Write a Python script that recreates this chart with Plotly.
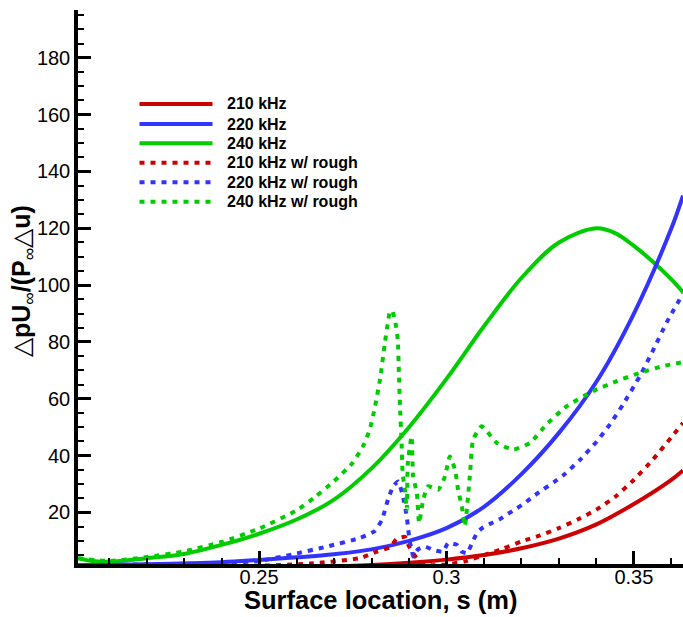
import plotly.graph_objects as go

# Surface location s (m) and normalized pressure response for each case
s_210 = [0.2017, 0.2500, 0.2700, 0.2800, 0.2900, 0.3000, 0.3100, 0.3200, 0.3300,
         0.3400, 0.3500, 0.3600, 0.3631]
dp_210 = [0.3, 0.5, 1.0, 1.5, 2.3, 3.4, 5.0, 7.4, 10.8,
          15.8, 23.0, 31.5, 34.8]

s_220 = [0.2017, 0.2200, 0.2400, 0.2500, 0.2600, 0.2700, 0.2800, 0.2900, 0.3000,
         0.3100, 0.3200, 0.3300, 0.3400, 0.3500, 0.3600, 0.3631]
dp_220 = [1.5, 1.8, 2.5, 3.3, 4.2, 5.3, 7.0, 10.0, 14.5,
          22.0, 33.5, 48.0, 66.0, 90.0, 120.0, 131.5]

s_240 = [0.2017, 0.2050, 0.2100, 0.2200, 0.2300, 0.2400, 0.2500, 0.2600, 0.2700,
         0.2800, 0.2900, 0.3000, 0.3100, 0.3200, 0.3300, 0.3400, 0.3450, 0.3500,
         0.3550, 0.3600, 0.3631]
dp_240 = [3.9, 3.0, 2.7, 3.9, 5.4, 8.6, 12.5, 17.5, 24.5,
          35.5, 50.0, 67.0, 85.5, 102.5, 115.0, 120.0, 118.3, 113.8,
          108.3, 102.0, 97.5]

s_210r = [0.2017, 0.2400, 0.2636, 0.2769, 0.2814, 0.2849, 0.2867, 0.2889, 0.2898,
          0.2911, 0.2921, 0.2943, 0.3000, 0.3050, 0.3100, 0.3150, 0.3200, 0.3250,
          0.3300, 0.3350, 0.3400, 0.3450, 0.3500, 0.3550, 0.3600, 0.3631]
dp_210r = [0.3, 0.8, 2.0, 3.9, 6.2, 7.8, 10.6, 11.4, 8.6,
           5.7, 3.9, 1.5, 1.7, 2.8, 5.0, 7.2, 9.8, 11.9,
           14.5, 17.5, 21.0, 25.5, 31.5, 38.5, 46.5, 51.5]

s_220r = [0.2017, 0.2200, 0.2400, 0.2500, 0.2591, 0.2681, 0.2769, 0.2809, 0.2828,
          0.2844, 0.2857, 0.2871, 0.2884, 0.2894, 0.2898, 0.2903, 0.2907, 0.2911,
          0.2924, 0.2943, 0.2964, 0.2991, 0.3004, 0.3028, 0.3041, 0.3055, 0.3068,
          0.3081, 0.3095, 0.3121, 0.3143, 0.3164, 0.3188, 0.3209, 0.3231, 0.3311,
          0.3356, 0.3401, 0.3436, 0.3471, 0.3516, 0.3551, 0.3588, 0.3631]
dp_220r = [1.5, 1.7, 2.2, 2.9, 5.3, 8.0, 11.0, 13.5, 17.5,
           24.5, 29.0, 30.9, 25.6, 18.6, 13.9, 9.2, 7.4, 4.5,
           7.0, 8.0, 6.8, 6.2, 9.2, 8.6, 6.2, 5.7, 9.2,
           12.7, 14.5, 16.3, 17.7, 19.5, 21.5, 23.3, 25.6, 33.0,
           38.5, 45.0, 51.0, 58.0, 68.0, 77.0, 87.0, 97.0]

s_240r = [0.2017, 0.2100, 0.2200, 0.2300, 0.2400, 0.2500, 0.2600, 0.2650, 0.2700,
          0.2750, 0.2780, 0.2796, 0.2809, 0.2823, 0.2836, 0.2844, 0.2849, 0.2855,
          0.2863, 0.2870, 0.2873, 0.2876, 0.2880, 0.2883, 0.2889, 0.2894, 0.2897,
          0.2907, 0.2911, 0.2921, 0.2927, 0.2938, 0.2951, 0.2978, 0.2996, 0.3009,
          0.3023, 0.3031, 0.3041, 0.3049, 0.3063, 0.3071, 0.3094, 0.3134, 0.3178,
          0.3223, 0.3267, 0.3321, 0.3391, 0.3454, 0.3516, 0.3578, 0.3631]
dp_240r = [3.9, 2.9, 4.3, 6.3, 9.6, 14.3, 20.7, 25.5, 31.0,
           37.5, 44.0, 49.5, 57.0, 67.0, 80.0, 87.0, 90.5, 91.0,
           87.4, 80.9, 69.2, 57.4, 45.6, 33.9, 28.0, 21.0, 37.5,
           46.8, 32.7, 26.8, 16.3, 24.5, 29.2, 28.0, 32.7, 39.7,
           35.0, 28.0, 22.1, 15.1, 33.9, 45.6, 50.3, 44.5, 42.1,
           44.5, 51.0, 57.4, 62.7, 66.2, 69.1, 71.5, 72.9]

legend_labels = ["210 kHz", "220 kHz", "240 kHz",
                 "210 kHz w/ rough", "220 kHz w/ rough", "240 kHz w/ rough"]

x_range = [0.2017, 0.3631]
y_range = [1.86, 196.8]

RED, BLUE, GREEN = "#cc0000", "#3333ff", "#00cc00"
DOT = "5px,6px"
FONT = "Liberation Sans, Arial, Helvetica, sans-serif"
W, H = 683, 617
ML, MR, MT, MB = 78, 0, 10, 53

style = {
    "210 kHz": (RED, "solid"),
    "220 kHz": (BLUE, "solid"),
    "240 kHz": (GREEN, "solid"),
    "210 kHz w/ rough": (RED, DOT),
    "220 kHz w/ rough": (BLUE, DOT),
    "240 kHz w/ rough": (GREEN, DOT),
}
data = {
    "210 kHz": (s_210, dp_210),
    "220 kHz": (s_220, dp_220),
    "240 kHz": (s_240, dp_240),
    "210 kHz w/ rough": (s_210r, dp_210r),
    "220 kHz w/ rough": (s_220r, dp_220r),
    "240 kHz w/ rough": (s_240r, dp_240r),
}
draw_order = ["240 kHz", "210 kHz", "220 kHz",
              "210 kHz w/ rough", "220 kHz w/ rough", "240 kHz w/ rough"]

fig = go.Figure()
for name in draw_order:
    color, dash = style[name]
    xs, ys = data[name]
    fig.add_trace(go.Scatter(
        x=xs, y=ys, mode="lines", name=name, showlegend=False,
        line=dict(color=color, width=4, dash=dash, shape="spline",
                  smoothing=1.0 if dash == "solid" else 0.5),
    ))

# Hand-drawn legend block: long line samples followed by bold labels
plot_w = W - ML - MR
plot_h = H - MT - MB

def px_x(px):
    return (px - ML) / plot_w

def px_y(py):
    return (H - MB - py) / plot_h

row_y = [104, 124, 143.3, 162.7, 182.3, 201.7]
for name, py in zip(legend_labels, row_y):
    color, dash = style[name]
    fig.add_shape(type="line", xref="paper", yref="paper",
                  x0=px_x(139.5), x1=px_x(212.5), y0=px_y(py), y1=px_y(py),
                  line=dict(color=color, width=4, dash=dash))
    fig.add_annotation(xref="paper", yref="paper", x=px_x(225), y=px_y(py),
                       xanchor="left", yanchor="middle", showarrow=False,
                       text="<b>" + name + "</b>",
                       font=dict(family=FONT, size=16, color="black"))

# Axis titles
fig.add_annotation(xref="paper", yref="paper", x=0.5, y=px_y(600),
                   xanchor="center", yanchor="middle", showarrow=False,
                   text="<b>Surface location, s (m)</b>",
                   font=dict(family=FONT, size=25.5, color="black"))
nw = "<span style='font-weight:normal'>"
fig.add_annotation(xref="paper", yref="paper", x=px_x(23), y=px_y(281),
                   xanchor="center", yanchor="middle", showarrow=False,
                   textangle=-90,
                   text="<b>" + nw + "△</span>pU<sub>" + nw + "∞</span></sub>/(P<sub>"
                        + nw + "∞</span></sub>" + nw + "△</span>u)</b>",
                   font=dict(family=FONT, size=25, color="black"))

axis_common = dict(
    showline=True, linecolor="black", linewidth=3.5, mirror=False,
    ticks="inside", ticklen=13, tickwidth=3, tickcolor="black",
    showgrid=False, zeroline=False,
    tickfont=dict(family=FONT, size=20, color="black"),
)

fig.update_xaxes(range=x_range, tick0=0.25, dtick=0.05, tickformat=".2~f",
                 ticklabelstandoff=-8,
                 minor=dict(ticks="inside", ticklen=6, tickwidth=1.5,
                            tickcolor="black", dtick=0.01, tick0=0.2,
                            showgrid=False),
                 **axis_common)
fig.update_yaxes(range=y_range, tick0=0, dtick=20,
                 ticklabelstandoff=0,
                 minor=dict(ticks="inside", ticklen=6, tickwidth=1.5,
                            tickcolor="black", dtick=5, tick0=0,
                            showgrid=False),
                 **axis_common)

fig.update_layout(
    width=W, height=H,
    margin=dict(l=ML, r=MR, t=MT, b=MB, pad=0),
    paper_bgcolor="white", plot_bgcolor="white",
    font=dict(family=FONT, color="black"),
    showlegend=False,
)

fig.write_html("out.html")
